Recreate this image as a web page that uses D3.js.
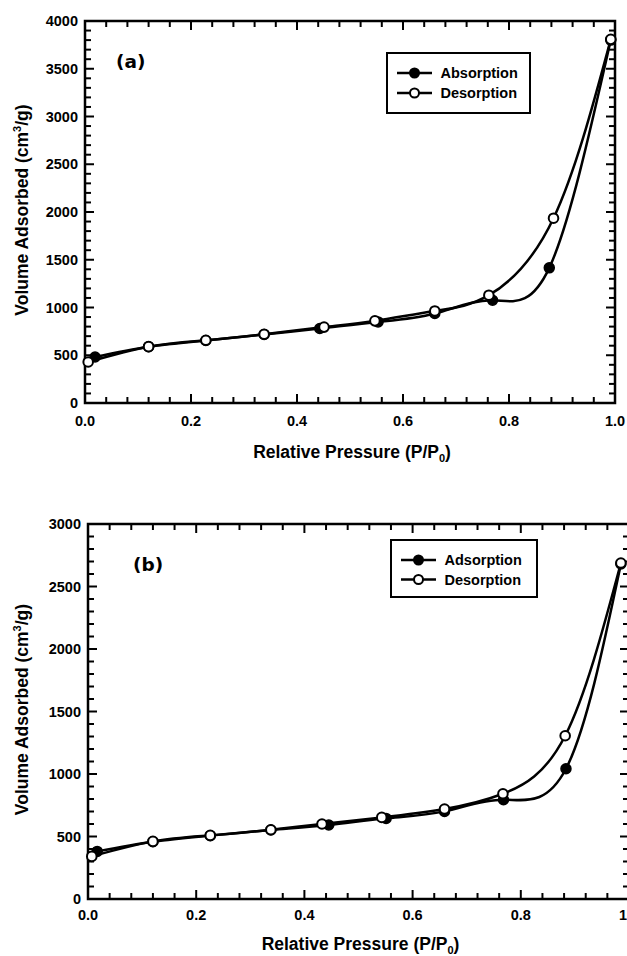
<!DOCTYPE html>
<html><head><meta charset="utf-8">
<script src="https://cdn.jsdelivr.net/npm/d3@7"></script>
<style>body{margin:0;background:#fff}svg{display:block}</style>
</head><body>
<svg id="c" width="627" height="956"></svg>
<script>
// Panel (a) data
const aAdsX = [0.019, 0.12, 0.228, 0.338, 0.443, 0.553, 0.66, 0.769, 0.876, 0.992];
const aAdsY = [482, 590, 655, 718, 780, 849, 937, 1076, 1415, 3800];
const aDesX = [0.006, 0.12, 0.228, 0.338, 0.451, 0.547, 0.66, 0.762, 0.884, 0.992];
const aDesY = [430, 590, 657, 720, 795, 860, 964, 1129, 1935, 3808];
// Panel (b) data
const bAdsX = [0.017, 0.12, 0.226, 0.338, 0.445, 0.551, 0.659, 0.768, 0.8835, 0.985];
const bAdsY = [381, 458, 507, 552, 592, 645, 701, 794, 1042, 2680];
const bDesX = [0.007, 0.12, 0.226, 0.338, 0.4325, 0.543, 0.659, 0.767, 0.882, 0.985];
const bDesY = [341, 461, 509, 554, 600, 653, 720, 842, 1306, 2688];
// Ticks / labels
const xMajor = [0, 0.2, 0.4, 0.6, 0.8, 1.0];
const aYMax = 4000, bYMax = 3000;
const aLegend = ["Absorption", "Desorption"];
const bLegend = ["Adsorption", "Desorption"];
const panelTags = ["(a)", "(b)"];

const svg = d3.select("#c");
const TF = "'Liberation Sans', Arial, sans-serif";

function panel(cfg) {
  const x = d3.scaleLinear().domain([0, 1]).range([cfg.left, cfg.right]);
  const y = d3.scaleLinear().domain([0, cfg.ymax]).range([cfg.bottom, cfg.top]);
  const g = svg.append("g");
  // ticks
  const xMinor = d3.range(0, 1.0001, 0.04);
  const yMinor = d3.range(0, cfg.ymax + 1, 100);
  const isMajX = v => Math.abs(v * 5 - Math.round(v * 5)) < 1e-6;
  const isMajY = v => v % 500 === 0;
  const tk = g.append("g").attr("stroke", "#000").attr("stroke-width", 2);
  xMinor.forEach(v => {
    const L = isMajX(v) ? 9 : 6;
    tk.append("line").attr("x1", x(v)).attr("x2", x(v)).attr("y1", cfg.bottom).attr("y2", cfg.bottom - L);
    tk.append("line").attr("x1", x(v)).attr("x2", x(v)).attr("y1", cfg.top).attr("y2", cfg.top + L);
  });
  yMinor.forEach(v => {
    const L = isMajY(v) ? 9 : 6;
    tk.append("line").attr("x1", cfg.left).attr("x2", cfg.left + L).attr("y1", y(v)).attr("y2", y(v));
    tk.append("line").attr("x1", cfg.right).attr("x2", cfg.right - L).attr("y1", y(v)).attr("y2", y(v));
  });
  g.append("rect").attr("x", cfg.left).attr("y", cfg.top)
    .attr("width", cfg.right - cfg.left).attr("height", cfg.bottom - cfg.top)
    .attr("fill", "none").attr("stroke", "#000").attr("stroke-width", 2.5);
  // tick labels
  xMajor.forEach(v => {
    g.append("text").attr("x", x(v)).attr("y", cfg.bottom + cfg.xtlOff).attr("text-anchor", "middle")
      .attr("font-family", TF).attr("font-weight", "bold").attr("font-size", 14.5).text(v.toFixed(1));
  });
  d3.range(0, cfg.ymax + 1, 500).forEach(v => {
    g.append("text").attr("x", cfg.left - 7).attr("y", y(v) + 5.2).attr("text-anchor", "end")
      .attr("font-family", TF).attr("font-weight", "bold").attr("font-size", 14.5).text(v);
  });
  // axis titles
  const xt = g.append("text").attr("x", (cfg.left + cfg.right) / 2 + 2).attr("y", cfg.bottom + cfg.xtOff)
    .attr("text-anchor", "middle").attr("font-family", TF).attr("font-weight", "bold").attr("font-size", 17.5);
  xt.append("tspan").text("Relative Pressure (P/P");
  xt.append("tspan").attr("font-size", 11).attr("dy", 3.5).text("0");
  xt.append("tspan").attr("dy", -3.5).text(")");
  const yt = g.append("text").attr("transform", `translate(28,${(cfg.top + cfg.bottom) / 2 - 2}) rotate(-90)`)
    .attr("text-anchor", "middle").attr("font-family", TF).attr("font-weight", "bold").attr("font-size", 17.5);
  yt.append("tspan").text("Volume Adsorbed (cm");
  yt.append("tspan").attr("font-size", 11).attr("dy", -7).text("3");
  yt.append("tspan").attr("dy", 7).text("/g)");
  // tag
  g.append("text").attr("x", cfg.tagX).attr("y", cfg.tagY).attr("font-family", "'DejaVu Sans', Verdana, sans-serif")
    .attr("font-weight", "bold").attr("font-size", 18.5).text(cfg.tag);
  // series
  const line = d3.line().x(d => x(d[0])).y(d => y(d[1])).curve(d3.curveNatural);
  const ads = cfg.adsX.map((v, i) => [v, cfg.adsY[i]]);
  const des = cfg.desX.map((v, i) => [v, cfg.desY[i]]);
  g.append("path").attr("d", line(ads)).attr("fill", "none").attr("stroke", "#000").attr("stroke-width", 2.5);
  g.append("path").attr("d", line(des)).attr("fill", "none").attr("stroke", "#000").attr("stroke-width", 2.5);
  g.selectAll(null).data(ads).enter().append("circle").attr("cx", d => x(d[0])).attr("cy", d => y(d[1]))
    .attr("r", 5).attr("fill", "#000").attr("stroke", "#000").attr("stroke-width", 1.5);
  g.selectAll(null).data(des).enter().append("circle").attr("cx", d => x(d[0])).attr("cy", d => y(d[1]))
    .attr("r", 4.8).attr("fill", "#fff").attr("stroke", "#000").attr("stroke-width", 2);
  // legend
  const lg = g.append("g");
  lg.append("rect").attr("x", cfg.lgX).attr("y", cfg.lgY).attr("width", cfg.lgW).attr("height", cfg.lgH)
    .attr("fill", "#fff").attr("stroke", "#000").attr("stroke-width", 2);
  cfg.legend.forEach((t, i) => {
    const ry = cfg.lgY + cfg.lgRow0 + i * cfg.lgDy;
    lg.append("line").attr("x1", cfg.lgX + 10).attr("x2", cfg.lgX + 45).attr("y1", ry).attr("y2", ry)
      .attr("stroke", "#000").attr("stroke-width", 2.5);
    lg.append("circle").attr("cx", cfg.lgX + 27.5).attr("cy", ry).attr("r", 4.5)
      .attr("fill", i === 0 ? "#000" : "#fff").attr("stroke", "#000").attr("stroke-width", 2);
    lg.append("text").attr("x", cfg.lgX + 53.5).attr("y", ry + 5.2).attr("font-family", TF)
      .attr("font-weight", "bold").attr("font-size", 14.5).text(t);
  });
}

panel({left: 85, right: 615, top: 21, bottom: 403, ymax: aYMax, tag: panelTags[0], tagX: 116, tagY: 68,
  xtlOff: 23, xtOff: 55,
  adsX: aAdsX, adsY: aAdsY, desX: aDesX, desY: aDesY, legend: aLegend,
  lgX: 387, lgY: 53, lgW: 143, lgH: 60, lgRow0: 20, lgDy: 20});
panel({left: 88, right: 629, top: 524, bottom: 899, ymax: bYMax, tag: panelTags[1], tagX: 133, tagY: 571,
  xtlOff: 20.5, xtOff: 51,
  adsX: bAdsX, adsY: bAdsY, desX: bDesX, desY: bDesY, legend: bLegend,
  lgX: 391, lgY: 540, lgW: 146, lgH: 57, lgRow0: 20, lgDy: 19.5});
</script>
</body></html>
